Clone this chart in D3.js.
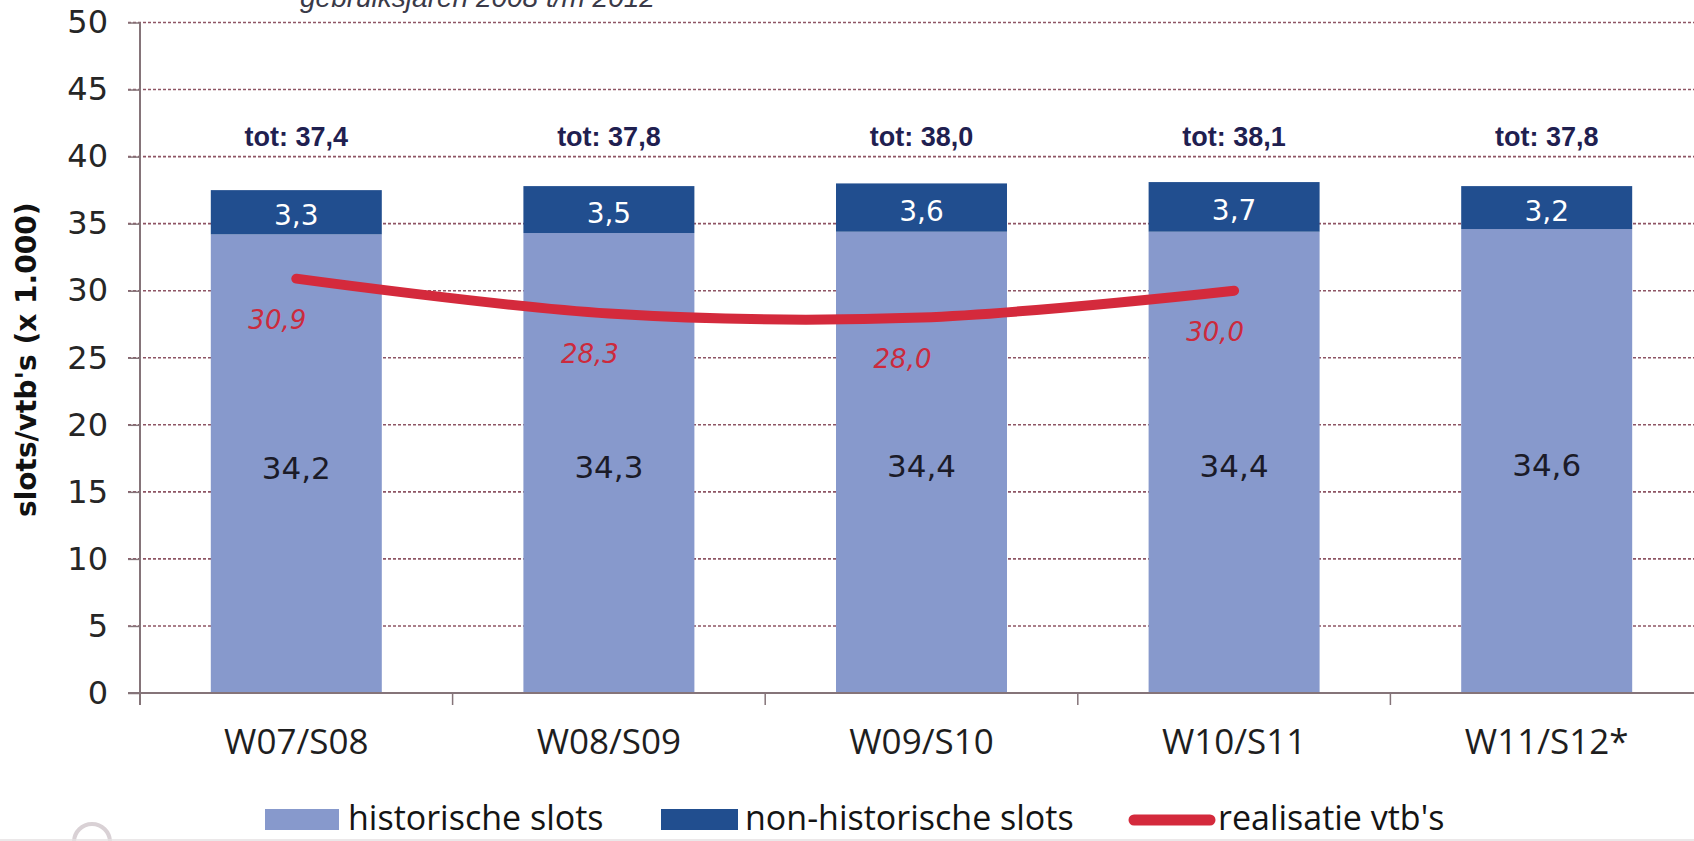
<!DOCTYPE html>
<html>
<head>
<meta charset="utf-8">
<script src="https://cdn.jsdelivr.net/npm/d3@7"></script>
<style>
  html, body { margin: 0; padding: 0; background: #ffffff; }
  svg { display: block; }
</style>
</head>
<body>
<svg id="chart" width="1694" height="841"></svg>
<script>
// ---- data ----
const categories = ["W07/S08", "W08/S09", "W09/S10", "W10/S11", "W11/S12*"];
const historischeSlots = [34.2, 34.3, 34.4, 34.4, 34.6];
const nonHistorischeSlots = [3.3, 3.5, 3.6, 3.7, 3.2];
const totals = [37.4, 37.8, 38.0, 38.1, 37.8];
const realisatieCategories = ["W07/S08", "W08/S09", "W09/S10", "W10/S11"];
const realisatieVtbs = [30.9, 28.3, 28.0, 30.0];
const yTickValues = [0, 5, 10, 15, 20, 25, 30, 35, 40, 45, 50];
const legendLabels = ["historische slots", "non-historische slots", "realisatie vtb's"];
const subtitle = "gebruiksjaren 2008 t/m 2012";
const yTitle = "slots/vtb's (x 1.000)";

// ---- styles ----
const colLight = "#8799CC";
const colDark = "#214E8F";
const colRed = "#D42A3C";
const colGrid = "#8E5564";
const colAxis = "#857479";

const loc = d3.formatLocale({decimal: ",", thousands: ".", grouping: [3], currency: ["€", ""]});
const f1 = loc.format(".1f");

const svg = d3.select("#chart");

const x = d3.scaleBand()
  .domain(categories)
  .range([140, 1703])
  .paddingInner(0.453)
  .paddingOuter(0.2265);
const step = x.step();
const y = d3.scaleLinear().domain([0, 50]).range([693, 22.5]);

// subtitle (cropped at top, as in the source)
svg.append("text")
  .attr("x", 300).attr("y", 7)
  .attr("font-family", "Liberation Sans, Arial, sans-serif")
  .attr("font-style", "italic")
  .attr("font-size", 28)
  .attr("fill", "#3a3a48")
  .text(subtitle);

// gridlines
svg.append("g")
  .selectAll("line")
  .data(yTickValues.filter(d => d > 0))
  .join("line")
  .attr("x1", 128).attr("x2", 1694)
  .attr("y1", d => y(d)).attr("y2", d => y(d))
  .attr("stroke", colGrid)
  .attr("stroke-width", 1.6)
  .attr("stroke-dasharray", "3,2");

// y axis
const yAxis = d3.axisLeft(y).tickValues(yTickValues).tickSize(12).tickPadding(20).tickFormat(d3.format("d"));
const gy = svg.append("g").attr("transform", "translate(140,0)").call(yAxis);
gy.select(".domain").attr("stroke", colAxis).attr("stroke-width", 2).attr("d", `M0,${y(50)}V705`);
gy.selectAll(".tick line").attr("stroke", colAxis).attr("stroke-width", 1.5);
gy.selectAll(".tick text")
  .attr("font-family", "DejaVu Sans, Verdana, sans-serif")
  .attr("font-size", 32)
  .attr("fill", "#262626");

// y title
svg.append("text")
  .attr("transform", `translate(36,${(y(50) + y(0)) / 2 + 2}) rotate(-90)`)
  .attr("text-anchor", "middle")
  .attr("font-family", "DejaVu Sans, Arial, sans-serif")
  .attr("font-weight", "bold")
  .attr("font-size", 28)
  .attr("fill", "#111")
  .text(yTitle);

// bars
const rows = categories.map((c, i) => ({c, h: historischeSlots[i], n: nonHistorischeSlots[i], t: totals[i]}));
const gb = svg.append("g");
gb.selectAll("rect.hist").data(rows).join("rect")
  .attr("class", "hist")
  .attr("x", d => x(d.c)).attr("width", x.bandwidth())
  .attr("y", d => y(d.h)).attr("height", d => y(0) - y(d.h))
  .attr("fill", colLight);
gb.selectAll("rect.non").data(rows).join("rect")
  .attr("class", "non")
  .attr("x", d => x(d.c)).attr("width", x.bandwidth())
  .attr("y", d => y(d.h + d.n)).attr("height", d => y(d.h) - y(d.h + d.n))
  .attr("fill", colDark);

// x axis line + boundary ticks
const gx = svg.append("g");
gx.append("line").attr("x1", 128).attr("x2", 1694).attr("y1", y(0)).attr("y2", y(0))
  .attr("stroke", colAxis).attr("stroke-width", 2);
gx.selectAll("line.tk").data(d3.range(categories.length + 1)).join("line")
  .attr("class", "tk")
  .attr("x1", i => x.range()[0] + i * step).attr("x2", i => x.range()[0] + i * step)
  .attr("y1", y(0)).attr("y2", y(0) + 12)
  .attr("stroke", colAxis).attr("stroke-width", 1.5);
const xAxis = d3.axisBottom(x).tickSize(0).tickPadding(0);
const gxa = svg.append("g").attr("transform", `translate(0,${y(0) + 61})`).call(xAxis);
gxa.select(".domain").remove();
gxa.selectAll(".tick text")
  .attr("dy", 0)
  .attr("font-family", "Open Sans, sans-serif")
  .attr("font-size", 35)
  .attr("fill", "#1e1e1e");

// segment labels
gb.selectAll("text.hl").data(rows).join("text")
  .attr("class", "hl")
  .attr("x", d => x(d.c) + x.bandwidth() / 2)
  .attr("y", d => y(d.h / 2) + 15)
  .attr("text-anchor", "middle")
  .attr("font-family", "DejaVu Sans, Verdana, sans-serif")
  .attr("font-size", 31)
  .attr("fill", "#1b1b28")
  .text(d => f1(d.h));
gb.selectAll("text.nl").data(rows).join("text")
  .attr("class", "nl")
  .attr("x", d => x(d.c) + x.bandwidth() / 2)
  .attr("y", d => y(d.h + d.n / 2) + 13)
  .attr("text-anchor", "middle")
  .attr("font-family", "DejaVu Sans, Verdana, sans-serif")
  .attr("font-size", 28)
  .attr("fill", "#ffffff")
  .text(d => f1(d.n));
gb.selectAll("text.tl").data(rows).join("text")
  .attr("class", "tl")
  .attr("x", d => x(d.c) + x.bandwidth() / 2)
  .attr("y", y(41.5) + 10)
  .attr("text-anchor", "middle")
  .attr("font-family", "Liberation Sans, Arial, sans-serif")
  .attr("font-weight", "bold")
  .attr("font-size", 27)
  .attr("fill", "#1f2050")
  .text(d => "tot: " + f1(d.t));

// line
const lineData = realisatieCategories.map((c, i) => ({c, v: realisatieVtbs[i]}));
const line = d3.line()
  .x(d => x(d.c) + x.bandwidth() / 2)
  .y(d => y(d.v))
  .curve(d3.curveCardinal.tension(0));
svg.append("path")
  .datum(lineData)
  .attr("d", line)
  .attr("fill", "none")
  .attr("stroke", colRed)
  .attr("stroke-width", 10)
  .attr("stroke-linecap", "round")
  .attr("stroke-linejoin", "round");
svg.append("g").selectAll("text").data(lineData).join("text")
  .attr("x", d => x(d.c) + x.bandwidth() / 2 - 19)
  .attr("y", d => y(d.v) + 50)
  .attr("text-anchor", "middle")
  .attr("font-family", "DejaVu Sans, Verdana, sans-serif")
  .attr("font-style", "italic")
  .attr("font-size", 26)
  .attr("fill", "#CC2A3C")
  .text(d => f1(d.v));

// legend
const lg = svg.append("g");
const legendItems = [
  {label: legendLabels[0], type: "rect", color: colLight, sx: 265, sw: 74, tx: 348},
  {label: legendLabels[1], type: "rect", color: colDark, sx: 661, sw: 77, tx: 745},
  {label: legendLabels[2], type: "line", color: colRed, sx: 1134, sw: 76, tx: 1218}
];
legendItems.forEach(it => {
  if (it.type === "rect") {
    lg.append("rect").attr("x", it.sx).attr("y", 809).attr("width", it.sw).attr("height", 21).attr("fill", it.color);
  } else {
    lg.append("line").attr("x1", it.sx).attr("x2", it.sx + it.sw).attr("y1", 820).attr("y2", 820)
      .attr("stroke", it.color).attr("stroke-width", 11).attr("stroke-linecap", "round");
  }
  lg.append("text").attr("x", it.tx).attr("y", 830)
    .attr("font-family", "Open Sans, sans-serif")
    .attr("font-size", 34)
    .attr("fill", "#141414")
    .text(it.label);
});

// faint scan artefacts at the bottom-left
svg.append("circle").attr("cx", 92).attr("cy", 842).attr("r", 18)
  .attr("fill", "none").attr("stroke", "#d9d1d5").attr("stroke-width", 4);
svg.append("line").attr("x1", 0).attr("x2", 1694).attr("y1", 840).attr("y2", 840)
  .attr("stroke", "#e4e0e2").attr("stroke-width", 1.5);
</script>
</body>
</html>
